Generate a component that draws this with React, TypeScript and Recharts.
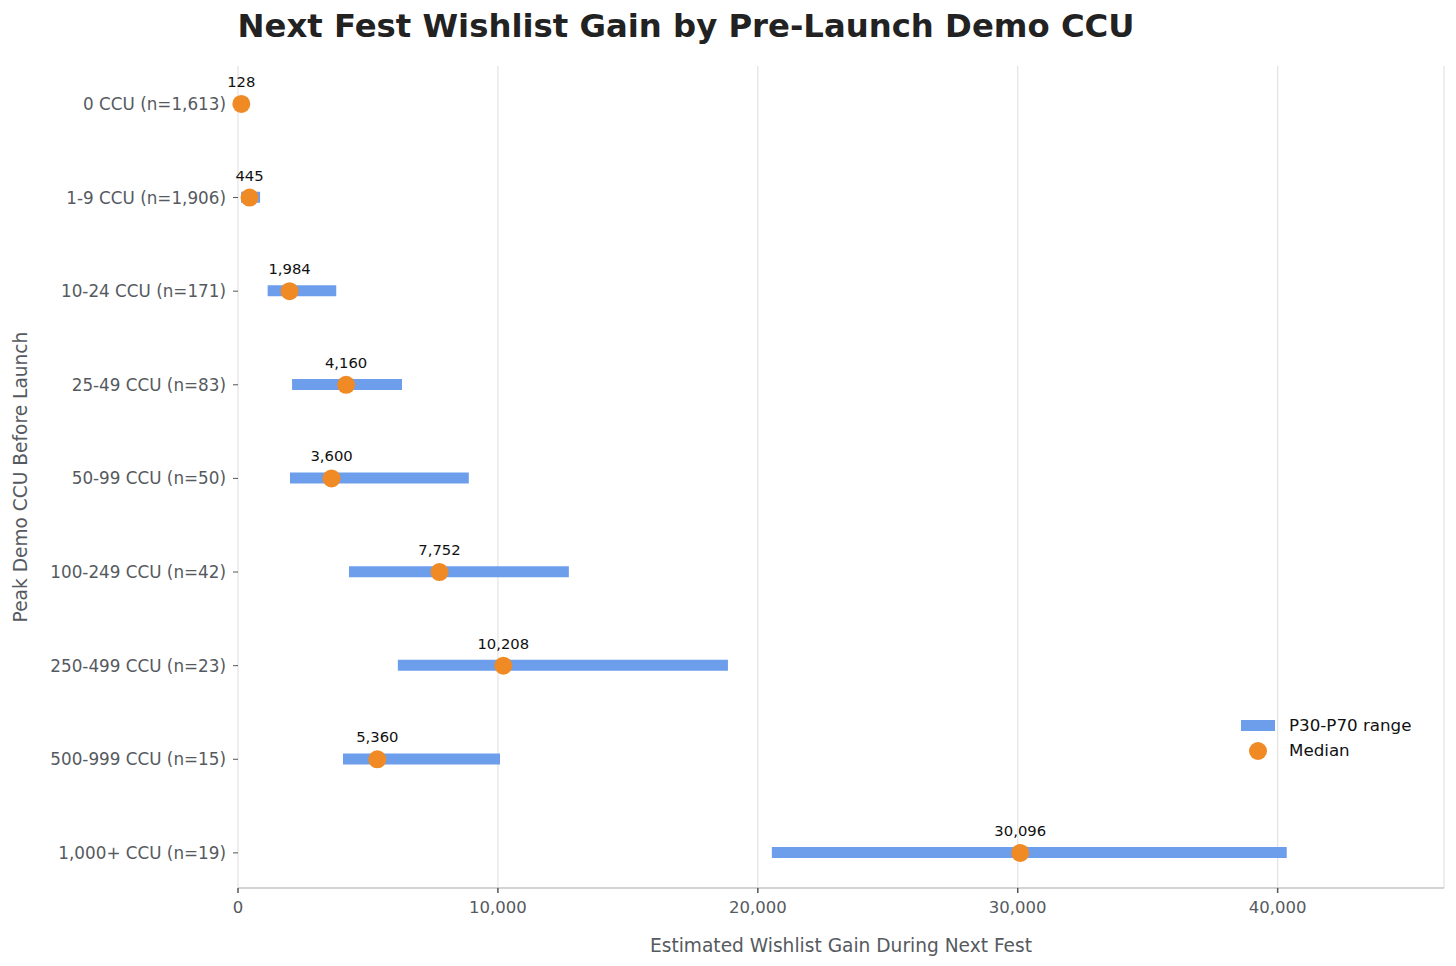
import {
  ComposedChart, Bar, Scatter, XAxis, YAxis, CartesianGrid, Legend, Label,
} from 'recharts';

const categories = [
  '0 CCU (n=1,613)',
  '1-9 CCU (n=1,906)',
  '10-24 CCU (n=171)',
  '25-49 CCU (n=83)',
  '50-99 CCU (n=50)',
  '100-249 CCU (n=42)',
  '250-499 CCU (n=23)',
  '500-999 CCU (n=15)',
  '1,000+ CCU (n=19)',
];
const p30 = [0, 120, 1140, 2080, 2000, 4270, 6150, 4040, 20540];
const p70 = [150, 850, 3780, 6310, 8880, 12730, 18850, 10080, 40350];
const medians = [128, 445, 1984, 4160, 3600, 7752, 10208, 5360, 30096];
const xTicks = [0, 10000, 20000, 30000, 40000];

const BLUE = '#6d9eeb';
const ORANGE = '#f08a24';
const FONT = '"DejaVu Sans", sans-serif';

const data = categories.map((label, i) => ({
  idx: i,
  label,
  range: [p30[i], p70[i]],
  median: medians[i],
}));

const fmt = (v: number) => v.toLocaleString('en-US');

function MedianDot(props: any) {
  const { cx, cy, payload } = props;
  if (cx == null || cy == null) return null;
  return (
    <g>
      <circle cx={cx} cy={cy} r={9} fill={ORANGE} />
      <text x={cx} y={cy - 17} textAnchor="middle" fontSize={14.8} fill="#111" fontFamily={FONT}>
        {fmt(payload.median)}
      </text>
    </g>
  );
}

function LegendBox() {
  return (
    <div style={{ fontFamily: FONT, fontSize: 16.7, color: '#111', lineHeight: '25px', textAlign: 'left' }}>
      <div style={{ display: 'flex', alignItems: 'center' }}>
        <span style={{ width: 34, height: 11, background: BLUE, display: 'inline-block', marginRight: 14 }} />
        P30-P70 range
      </div>
      <div style={{ display: 'flex', alignItems: 'center' }}>
        <span style={{ width: 34, display: 'inline-flex', justifyContent: 'center', marginRight: 14 }}>
          <span style={{ width: 18, height: 18, borderRadius: 9, background: ORANGE, display: 'inline-block' }} />
        </span>
        Median
      </div>
    </div>
  );
}

export default function App() {
  return (
    <div style={{ position: 'absolute', left: 0, top: 0, width: 1456, height: 966, background: '#fff' }}>
      <div
        style={{
          position: 'absolute', left: 0, width: 1372, top: 6, textAlign: 'center',
          fontFamily: FONT, fontWeight: 'bold', fontSize: 32.3, color: '#222', lineHeight: '40px',
        }}
      >
        Next Fest Wishlist Gain by Pre-Launch Demo CCU
      </div>
      <ComposedChart
        width={1456}
        height={966}
        data={data}
        layout="vertical"
        margin={{ top: 66, right: 12, bottom: 0, left: 0 }}
      >
        <CartesianGrid horizontal={false} stroke="#e3e3e3" strokeWidth={1.2} />
        <XAxis
          type="number"
          dataKey="median"
          domain={[0, 46400]}
          ticks={xTicks}
          tickFormatter={fmt}
          height={78}
          stroke="#c4c4c4"
          strokeWidth={1.5}
          tickSize={5}
          tickMargin={8}
          tick={{ fontSize: 16.5, fill: '#555a60', fontFamily: FONT }}
          tickLine={{ stroke: '#555' }}
        >
          <Label
            value="Estimated Wishlist Gain During Next Fest"
            position="insideBottom"
            offset={14}
            style={{ fontSize: 18.6, fill: '#555a60', fontFamily: FONT }}
          />
        </XAxis>
        <YAxis
          type="number"
          dataKey="idx"
          domain={[-0.405, 8.375]}
          ticks={[0, 1, 2, 3, 4, 5, 6, 7, 8]}
          tickFormatter={(i: number) => categories[i] ?? ''}
          width={238}
          axisLine={false}
          tickSize={5}
          tickMargin={7}
          tick={{ fontSize: 16.8, fill: '#555a60', fontFamily: FONT }}
          tickLine={{ stroke: '#555' }}
        >
          <Label
            content={({ viewBox }: any) => {
              const x = viewBox.x + 20;
              const y = viewBox.y + viewBox.height / 2;
              return (
                <text
                  x={x}
                  y={y}
                  transform={`rotate(-90 ${x} ${y})`}
                  textAnchor="middle"
                  dominantBaseline="central"
                  fontSize={18.6}
                  fill="#555a60"
                  fontFamily={FONT}
                >
                  Peak Demo CCU Before Launch
                </text>
              );
            }}
          />
        </YAxis>
        <Bar dataKey="range" name="P30-P70 range" fill={BLUE} barSize={11} isAnimationActive={false} />
        <Scatter dataKey="median" name="Median" fill={ORANGE} shape={<MedianDot />} isAnimationActive={false} />
        <Legend
          content={() => <LegendBox />}
          layout="horizontal"
          verticalAlign="middle"
          align="center"
          wrapperStyle={{ position: 'absolute', left: 1241, top: 713, width: 200 }}
        />
      </ComposedChart>
    </div>
  );
}
